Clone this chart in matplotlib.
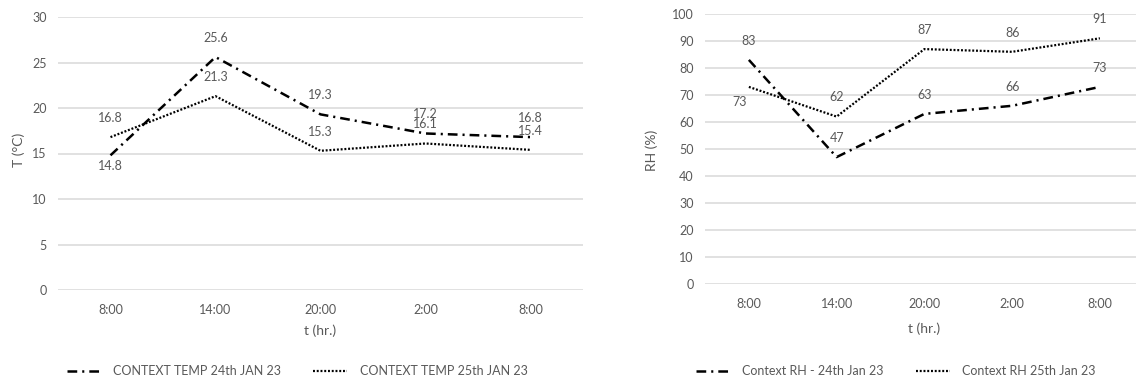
import matplotlib
matplotlib.use("Agg")
import matplotlib.pyplot as plt

plt.rcParams['font.family'] = ['Lato', 'DejaVu Sans']
plt.rcParams['lines.scale_dashes'] = False

times = ["8:00", "14:00", "20:00", "2:00", "8:00"]
temp_24 = [14.8, 25.6, 19.3, 17.2, 16.8]
temp_25 = [16.8, 21.3, 15.3, 16.1, 15.4]
rh_24 = [83, 47, 63, 66, 73]
rh_25 = [73, 62, 87, 86, 91]

label_temp_24 = "CONTEXT TEMP 24th JAN 23"
label_temp_25 = "CONTEXT TEMP 25th JAN 23"
label_rh_24 = "Context RH - 24th Jan 23"
label_rh_25 = "Context RH 25th Jan 23"

TXT = '#595959'
GRID = '#d9d9d9'
FS = 9
W, H = 1136, 380

fig = plt.figure(figsize=(W / 100, H / 100), dpi=100)

dashdot = (0, (7, 3.6, 1.5, 3.6))
dotted = (0, (1.4, 1.3))


def px_axes(x0, x1, ytop, ybot):
    return fig.add_axes([x0 / W, (H - ybot) / H, (x1 - x0) / W, (ybot - ytop) / H])


def style(ax, ymax, ystep):
    ax.set_ylim(0, ymax)
    ax.set_yticks(range(0, ymax + 1, ystep))
    for s in ax.spines.values():
        s.set_visible(False)
    ax.grid(axis='y', color=GRID, lw=1.1)
    ax.set_axisbelow(True)
    ax.tick_params(axis='both', length=0, labelsize=FS, labelcolor=TXT)
    ax.tick_params(axis='y', pad=8)
    ax.tick_params(axis='x', pad=10)


def labels(ax, vals, offsets):
    for i, (v, off) in enumerate(zip(vals, offsets)):
        ax.annotate(f"{v:g}", (i, v), xytext=off, textcoords='offset points',
                    ha='center', va='center', fontsize=FS, color=TXT)


x = list(range(len(times)))
UP = (0, 13.8)

# Left chart: temperature
ax1 = px_axes(58, 583, 17, 290)
style(ax1, 30, 5)
ax1.set_xlim(-0.5, 4.5)
ax1.set_xticks(x, times)
l1, = ax1.plot(x, temp_24, color='black', lw=1.8, ls=dashdot, label=label_temp_24)
l2, = ax1.plot(x, temp_25, color='black', lw=1.6, ls=dotted, label=label_temp_25)
labels(ax1, temp_24, [(0, -8), UP, UP, UP, UP])
labels(ax1, temp_25, [UP, UP, UP, UP, UP])
ax1.set_xlabel("t (hr.)", fontsize=10, color=TXT)
ax1.xaxis.set_label_coords(0.5, (290 - 324) / 273)
ax1.set_ylabel("T (°C)", fontsize=10, color=TXT)
ax1.yaxis.set_label_coords((25 - 58) / 525, (290 - 150) / 273)
ax1.legend(handles=[l1, l2], loc='center', bbox_to_anchor=(297 / W, (H - 371) / H),
           bbox_transform=fig.transFigure, ncol=2, frameon=False, fontsize=FS,
           labelcolor=TXT, handlelength=2.7, handletextpad=1.0, columnspacing=2.6)

# Right chart: relative humidity
ax2 = px_axes(705, 1136, 14, 284)
style(ax2, 100, 10)
ax2.set_xlim(-0.5, -0.5 + 431 / 87.75)
ax2.set_xticks(x, times)
l3, = ax2.plot(x, rh_24, color='black', lw=1.8, ls=dashdot, label=label_rh_24)
l4, = ax2.plot(x, rh_25, color='black', lw=1.6, ls=dotted, label=label_rh_25)
labels(ax2, rh_24, [UP, UP, UP, UP, UP])
labels(ax2, rh_25, [(-6.5, -11), UP, UP, UP, UP])
ax2.set_xlabel("t (hr.)", fontsize=10, color=TXT)
ax2.xaxis.set_label_coords((924 - 705) / 431, (284 - 322) / 270)
ax2.set_ylabel("RH (%)", fontsize=10, color=TXT)
ax2.yaxis.set_label_coords((658 - 705) / 431, (284 - 150) / 270)
ax2.legend(handles=[l3, l4], loc='center', bbox_to_anchor=(896 / W, (H - 371) / H),
           bbox_transform=fig.transFigure, ncol=2, frameon=False, fontsize=FS,
           labelcolor=TXT, handlelength=2.7, handletextpad=1.0, columnspacing=2.6)

fig.savefig("out.png", dpi=100, facecolor='white')
